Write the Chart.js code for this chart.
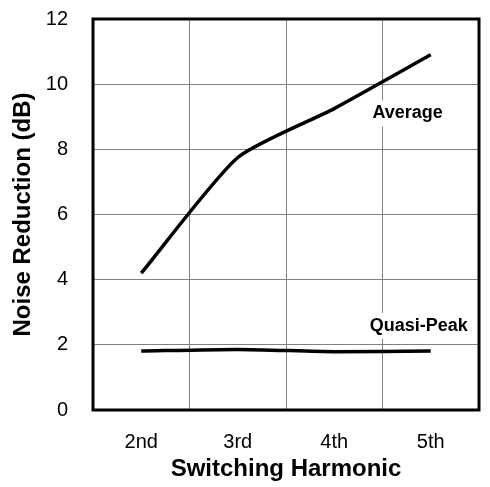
<!DOCTYPE html>
<html>
<head>
<meta charset="utf-8">
<script src="https://cdn.jsdelivr.net/npm/chart.js@4"></script>
<style>
  html, body { margin: 0; padding: 0; background: #fff; }
  #wrap { width: 490px; height: 487px; }
</style>
</head>
<body>
<div id="wrap"><canvas id="noiseChart" width="490" height="487"></canvas></div>
<script>
var harmonics = ['2nd', '3rd', '4th', '5th'];
var averageValues = [4.2, 7.75, 9.25, 10.9];
var quasiPeakValues = [1.81, 1.86, 1.79, 1.81];
var yTicks = [0, 2, 4, 6, 8, 10, 12];

// labels placed next to each curve (category index, value)
var seriesLabels = [
    { text: 'Average', x: 2.76, y: 9.1 },
    { text: 'Quasi-Peak', x: 2.875, y: 2.58 }
];

var FONT = "'Liberation Sans', Arial, sans-serif";

var labelPlugin = {
    id: 'seriesLabels',
    afterDatasetsDraw: function (chart) {
        var ctx = chart.ctx;
        var xs = chart.scales.x, ys = chart.scales.y;
        ctx.save();
        ctx.font = 'bold 18px ' + FONT;
        ctx.textAlign = 'center';
        ctx.textBaseline = 'middle';
        seriesLabels.forEach(function (l) {
            var px = xs.left + (l.x + 0.5) * (xs.width / harmonics.length);
            var py = ys.getPixelForValue(l.y);
            var w = ctx.measureText(l.text).width;
            ctx.fillStyle = '#fff';
            ctx.fillRect(px - w / 2 - 3, py - 13, w + 6, 26);
            ctx.fillStyle = '#000';
            ctx.fillText(l.text, px, py);
        });
        ctx.restore();
    },
    afterDraw: function (chart) {
        var a = chart.chartArea;
        var ctx = chart.ctx;
        ctx.save();
        ctx.strokeStyle = '#000';
        ctx.lineWidth = 3;
        ctx.strokeRect(a.left, a.top, a.right - a.left, a.bottom - a.top);
        ctx.restore();
    }
};

var ctx = document.getElementById('noiseChart').getContext('2d');
window.noiseChart = new Chart(ctx, {
    type: 'line',
    data: {
        labels: harmonics,
        datasets: [{
            label: 'Average',
            data: averageValues,
            borderColor: '#000',
            borderWidth: 3.5,
            pointRadius: 0,
            tension: 0.2,
            fill: false
        }, {
            label: 'Quasi-Peak',
            data: quasiPeakValues,
            borderColor: '#000',
            borderWidth: 3.5,
            pointRadius: 0,
            tension: 0.2,
            fill: false
        }]
    },
    options: {
        responsive: false,
        animation: false,
        layout: { padding: { left: 0, right: 11, top: 19, bottom: 0 } },
        plugins: {
            legend: { display: false },
            tooltip: { enabled: false }
        },
        scales: {
            x: {
                offset: true,
                grid: { offset: true, color: '#808080', lineWidth: 1, drawTicks: false },
                border: { display: false },
                ticks: { color: '#000', font: { family: FONT, size: 20 }, padding: 20 },
                title: {
                    display: true,
                    text: 'Switching Harmonic',
                    color: '#000',
                    font: { family: FONT, size: 24, weight: 'bold' },
                    padding: { top: 0, bottom: 3 }
                },
                afterFit: function (scale) {
                    scale.height = 77;
                    scale.paddingLeft = 0;
                    scale.paddingRight = 0;
                }
            },
            y: {
                min: 0,
                max: 12,
                afterBuildTicks: function (scale) {
                    scale.ticks = yTicks.map(function (v) { return { value: v }; });
                },
                grid: { color: '#808080', lineWidth: 1, drawTicks: false },
                border: { display: false },
                ticks: { color: '#000', font: { family: FONT, size: 20 }, padding: 25 },
                title: {
                    display: true,
                    text: 'Noise Reduction (dB)',
                    color: '#000',
                    font: { family: FONT, size: 24, weight: 'bold' },
                    padding: { top: 9, bottom: 0 }
                },
                afterFit: function (scale) {
                    scale.width = 93;
                    scale.paddingTop = 0;
                    scale.paddingBottom = 0;
                }
            }
        }
    },
    plugins: [labelPlugin]
});
</script>
</body>
</html>
